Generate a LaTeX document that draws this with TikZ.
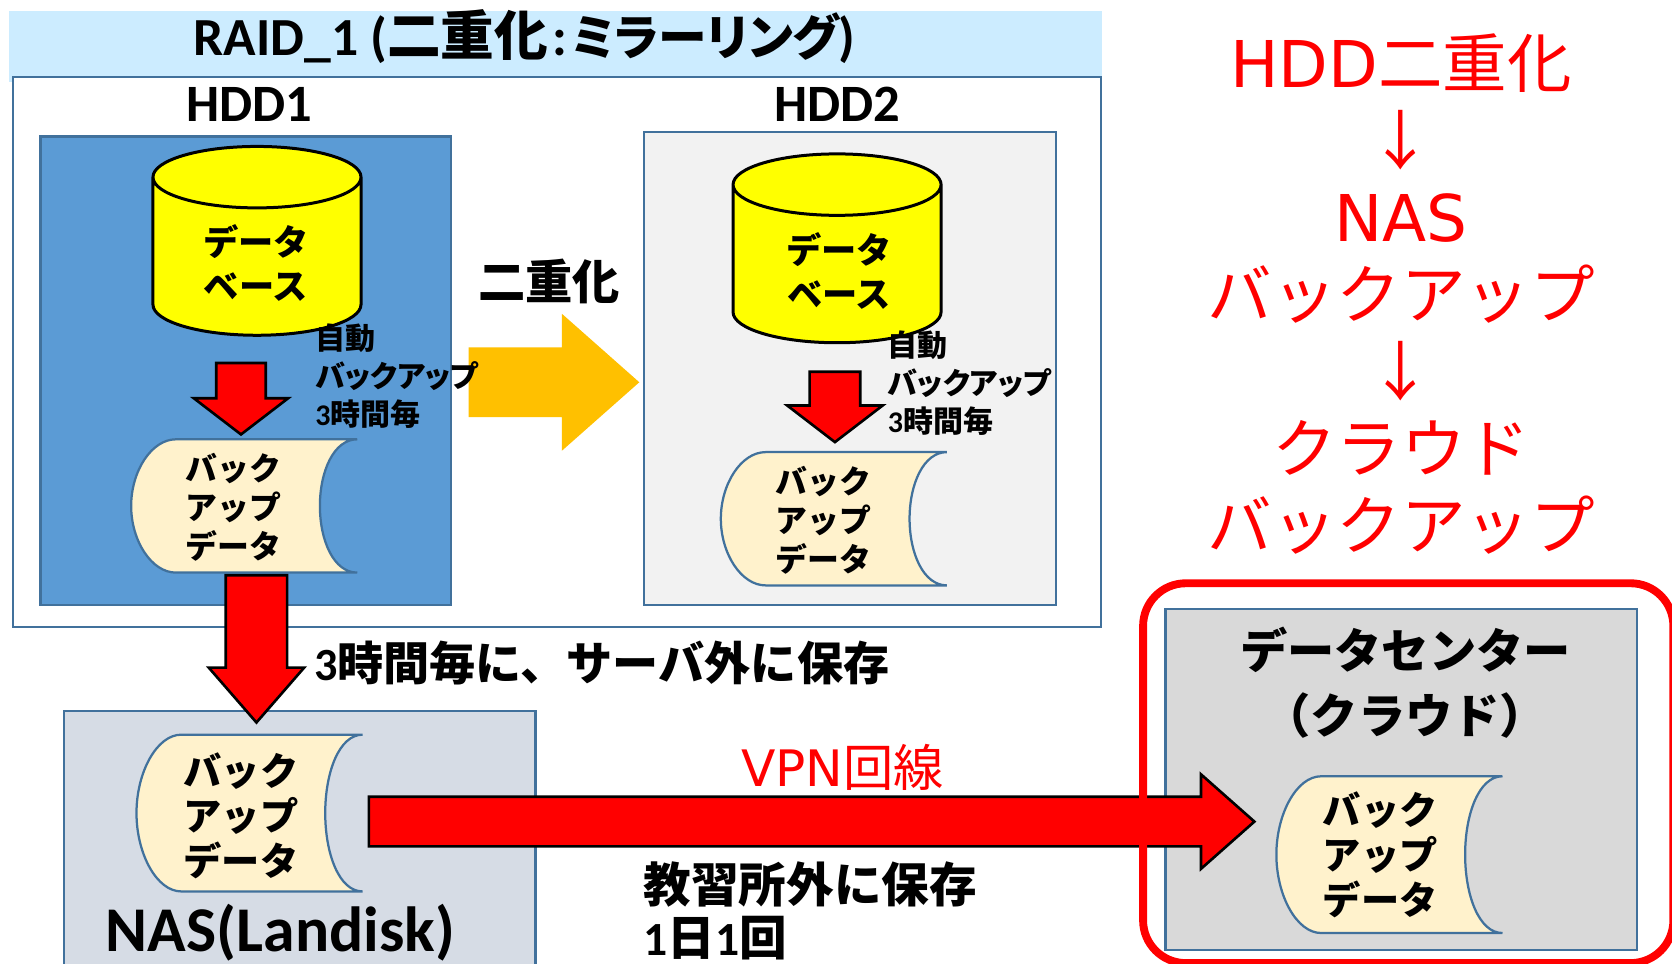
\documentclass[tikz,border=0pt]{standalone}
\usepackage{fontspec}
\setmainfont{Noto Sans CJK JP}
\newfontfamily\latinfont{Carlito}
\newfontfamily\verdfont{DejaVu Sans}
\newfontfamily\paltfont[RawFeature=+palt]{Noto Sans CJK JP}
\usetikzlibrary{shapes.geometric,shapes.arrows}
\definecolor{edgeblue}{HTML}{41719C}
\definecolor{bandblue}{HTML}{CCECFF}
\definecolor{hddblue}{HTML}{5B9BD5}
\definecolor{scrollfill}{HTML}{FFF2CC}
\definecolor{nasfill}{HTML}{D6DCE5}
\definecolor{copyorange}{HTML}{FFC000}
\definecolor{dbyellow}{HTML}{FFFF00}

\begin{document}
\begin{tikzpicture}[x=0.01cm, y=-0.01cm,
	main box/.style={rectangle, draw=edgeblue, line width=0.6pt, anchor=north west, inner sep=0pt, outer sep=0pt},
	db node/.style={cylinder, shape border rotate=90, aspect=0.6, draw=black, line width=0.8pt, fill=dbyellow, inner sep=0pt, minimum width=1.95cm, minimum height=1.77cm, text width=0.96cm, text height=0.8cm, text depth=0pt},
	db label/.style={inner sep=0pt, align=center, font=\fontsize{9.4}{11.7}\selectfont\bfseries},
	arrow shaft/.style={text width=#1, text height=#1, text depth=0pt, inner sep=0pt},
	down arrow/.style={single arrow, shape border rotate=270, draw=black, line width=0.7pt, fill=red},
	auto label/.style={anchor=north west, inner sep=0pt, align=left, font=\fontsize{8}{10.1}\selectfont\bfseries},
	scroll label/.style={inner sep=0pt, align=center, font=\fontsize{8.5}{10.4}\selectfont\bfseries},
	nas label/.style={inner sep=0pt, align=center, font=\fontsize{10.2}{12}\selectfont\bfseries},
	scroll/.pic={
		\draw[draw=edgeblue, line width=0.6pt, fill=scrollfill] (42,0) -- (212,0) .. controls (190,0) and (177,30) .. (177,62.5) .. controls (177,95) and (190,125) .. (212,125) -- (42,125) .. controls (19,125) and (0,95) .. (0,62.5) .. controls (0,30) and (19,0) .. (42,0) -- cycle;
	}]

	\useasboundingbox (0,0) rectangle (1568,904);

	% title band and outer box
	\node[rectangle, anchor=north west, inner sep=0pt, fill=bandblue, minimum width=10.24cm, minimum height=0.66cm] (band) at (8,10) {};
	\node[main box, fill=white, minimum width=10.2cm, minimum height=5.16cm] (raid) at (12,72) {};
	\node[inner sep=0pt, font=\fontsize{14.3}{16}\selectfont\bfseries] (title) at (492,34) {{\latinfont RAID\_1 (}二重化{\latinfont\kern.08em:\kern.08em}{\fontsize{13}{16}\selectfont\paltfont ミラーリング}{\latinfont )}};

	% both disks
	\node[main box, fill=black!5, minimum width=3.86cm, minimum height=4.43cm] (hdd2) at (604,124) {};
	\node[main box, fill=hddblue, minimum width=3.85cm, minimum height=4.39cm] (hdd1) at (38,128) {};
	\node[inner sep=0pt, font=\fontsize{14}{16}\selectfont\bfseries\latinfont] (name1) at (234,98) {HDD1};
	\node[inner sep=0pt, font=\fontsize{14}{16}\selectfont\bfseries\latinfont] (name2) at (785,98) {HDD2};

	\node[db node] (db1) at (241,241) {};
	\node[db node] (db2) at (785,248) {};
	\node[db label] (dbtext1) at (240,246.5) {データ\\ベース};
	\node[db label] (dbtext2) at (787,254) {データ\\ベース};

	% copy arrow between the disks
	\node[single arrow, fill=copyorange, arrow shaft=0.64cm, minimum height=1.6cm, single arrow head extend=0.315cm, single arrow tip angle=83] (copy) at (501,358.5) {};
	\node[inner sep=0pt, font=\fontsize{12.6}{15}\selectfont\bfseries] (copytext) at (515,264) {二重化};

	% backup inside each disk
	\node[down arrow, arrow shaft=0.44cm, minimum height=0.67cm, single arrow head extend=0.21cm, single arrow tip angle=105] (auto1) at (226,365) {};
	\node[down arrow, arrow shaft=0.45cm, minimum height=0.66cm, single arrow head extend=0.21cm, single arrow tip angle=105] (auto2) at (783,372.5) {};
	\node[auto label] (autotext1) at (295,303) {自動\\{\paltfont バックアップ}\\{\latinfont 3}時間毎};
	\node[auto label] (autotext2) at (832,310) {自動\\{\paltfont バックアップ}\\{\latinfont 3}時間毎};

	\pic at (123,412) {scroll};
	\pic at (676,424) {scroll};
	\node[scroll label] (data1) at (219,476) {バック\\アップ\\データ};
	\node[scroll label] (data2) at (772,488) {バック\\アップ\\データ};

	% move to the nas
	\node[main box, fill=nasfill, minimum width=4.42cm, minimum height=2.6cm] (nas) at (60,667) {};
	\node[down arrow, arrow shaft=0.55cm, minimum height=1.38cm, single arrow head extend=0.16cm, single arrow tip angle=82] (tonas) at (240.5,592) {};
	\node[anchor=west, inner sep=0pt, font=\fontsize{12.3}{15}\selectfont\bfseries] (tonastext) at (294,622) {{\latinfont 3}時間毎に、サーバ外に保存};

	\pic[yscale=1.176] at (128,689) {scroll};
	\node[nas label] (data3) at (226,765) {バック\\アップ\\データ};
	\node[inner sep=0pt, font=\fontsize{17}{20}\selectfont\bfseries\latinfont] (nasname) at (263,875) {NAS(Landisk)};

	% data center
	\node[main box, fill=black!15, minimum width=4.42cm, minimum height=3.2cm] (center) at (1093,571) {};
	\node[inner sep=0pt, align=center, font=\fontsize{12.6}{17.4}\selectfont\bfseries] (centertext) at (1318,640.5) {データセンター\\（クラウド）};
	\pic[yscale=1.176] at (1197,728) {scroll};
	\node[nas label] (data4) at (1294.5,801.5) {バック\\アップ\\データ};

	% line to the data center
	\node[single arrow, draw=black, line width=0.7pt, fill=red, arrow shaft=0.44cm, minimum height=8.3cm, single arrow head extend=0.21cm, single arrow tip angle=83] (vpn) at (748,770.5) {};
	\node[inner sep=0pt, text=red, font=\fontsize{13.4}{16}\selectfont] (vpntext) at (790,720) {{\verdfont VPN}回線};
	\node[anchor=north west, inner sep=0pt, align=left, font=\fontsize{12.7}{14}\selectfont\bfseries] (offsite) at (603,807.5) {教習所外に保存\\{\latinfont 1}日{\latinfont 1}回};
	\node[rectangle, rounded corners=0.4cm, draw=red, line width=2.1pt, anchor=north west, inner sep=0pt, outer sep=0pt, minimum width=4.97cm, minimum height=3.56cm] (cloudframe) at (1072,547) {};

	% red steps on the right
	\node[inner sep=0pt, text=red, align=center, font=\fontsize{17.2}{20.54}\selectfont] (steps) at (1314,275.5) {{\verdfont HDD}二重化\\↓\\{\verdfont NAS}\\バックアップ\\↓\\クラウド\\バックアップ};

\end{tikzpicture}
\end{document}
